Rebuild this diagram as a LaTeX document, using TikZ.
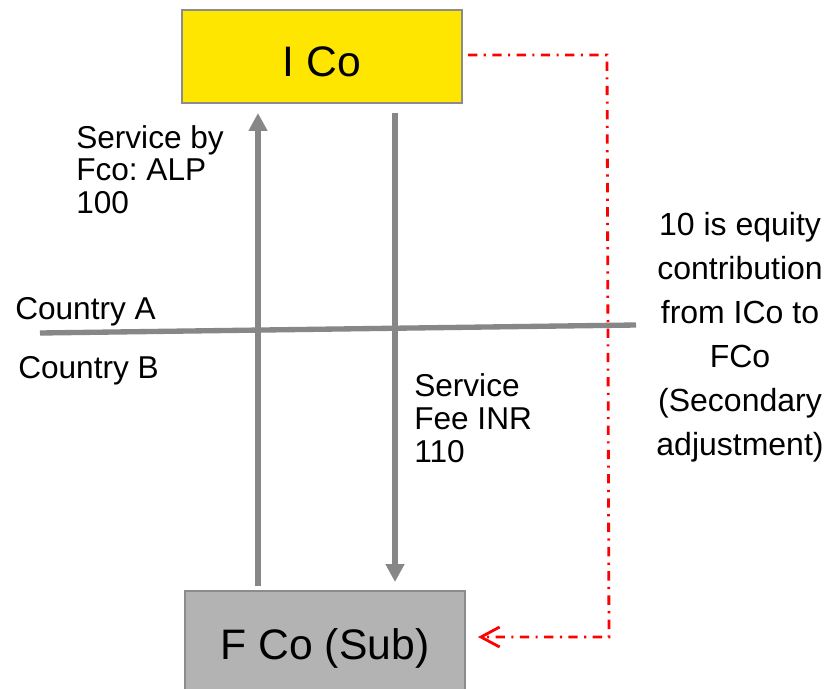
\documentclass[tikz,border=0pt]{standalone}
\usepackage{fontspec}
\setmainfont{Liberation Sans}
\usetikzlibrary{arrows.meta}
\definecolor{icoyellow}{HTML}{FFE600}
\definecolor{fcogray}{HTML}{B3B3B3}
\definecolor{boxline}{HTML}{8C8C8C}
\definecolor{flowgray}{HTML}{878787}
\definecolor{adjred}{HTML}{FF0000}
\frenchspacing
\begin{document}
\begin{tikzpicture}[x=0.75pt,y=-0.75pt,
  entity/.style={draw=boxline, line width=1.5pt, minimum width=210pt, inner sep=0pt,
    font=\fontsize{32}{36}\selectfont, text depth=0pt},
  flow/.style={draw=flowgray, line width=4.5pt, -{Triangle[length=13.5pt,width=13.5pt]}},
  border/.style={draw=flowgray, line width=4pt},
  adj/.style={draw=adjred, line width=2.1pt, dash pattern=on 7pt off 4.8pt on 1.6pt off 4.8pt,
    -{Straight Barb[length=14pt,width=15pt,line width=2.1pt]}},
  note/.style={inner sep=0pt, font=\fontsize{23.7}{24.4}\selectfont}
]
\useasboundingbox (0,0) rectangle (827,688);
\fill[white] (0,0) rectangle (827,688);

\node[entity, fill=icoyellow, minimum height=69.75pt, text height=30.75pt] (ico) at (322,56.5) {I Co};
\node[entity, fill=fcogray, minimum height=78pt, text height=24pt] (fco) at (325,643) {F Co (Sub)};

% border between countries
\coordinate (bl) at (40,333);
\coordinate (br) at (636,325);
\draw[border] (bl) -- (br);

% service flows
\coordinate (upx) at (258,0);
\coordinate (dnx) at (395,0);
\draw[flow, shorten <=3pt, shorten >=6.75pt] (fco.north -| upx) -- (ico.south -| upx);
\draw[flow, shorten <=6.75pt, shorten >=6pt] (ico.south -| dnx) -- (fco.north -| dnx);

% secondary adjustment
\coordinate (r1) at (607,55);
\coordinate (r2) at (609,637);
\draw[adj, shorten <=3.75pt, shorten >=9pt] (ico.east |- r1) -- (r1) -- (r2) -- (fco.east |- r2);

% labels
\node[note, anchor=north west, align=left] (lsvc) at (76,125) {Service by\\Fco: ALP\\100};
\node[note, anchor=north west, align=left, font=\fontsize{23.7}{24.8}\selectfont] (rsvc) at (414,373) {Service\\Fee INR\\110};
\node[note, anchor=north west] (ca) at (15,297) {Country A};
\node[note, anchor=north west] (cb) at (18,356) {Country B};
\node[note, anchor=north, align=center, font=\fontsize{24}{33}\selectfont] (eq) at (740,212)
  {10 is equity\\contribution\\from ICo to\\FCo\\(Secondary\\adjustment)};
\end{tikzpicture}
\end{document}
